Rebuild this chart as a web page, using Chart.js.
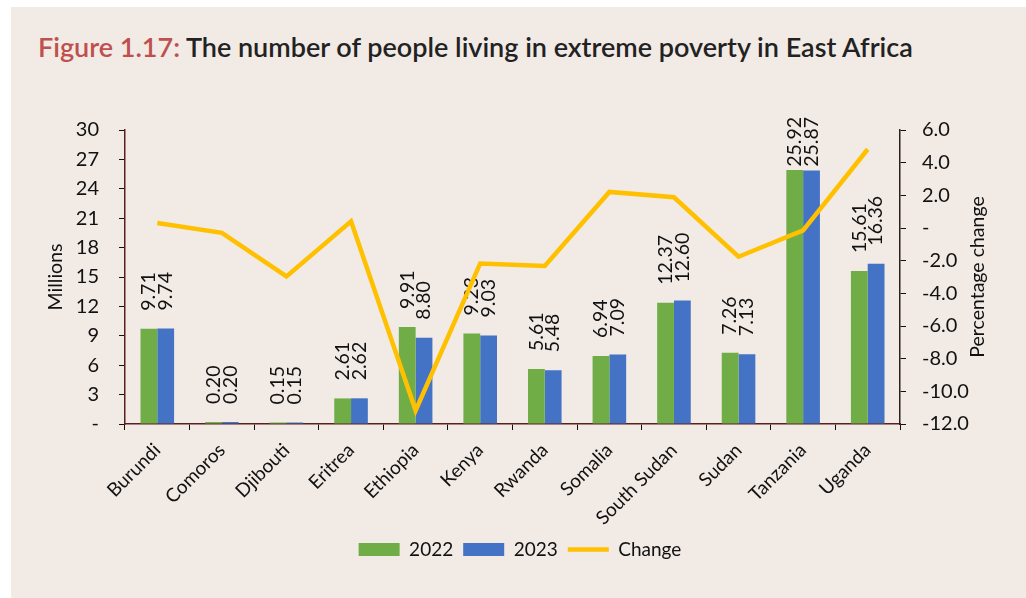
<!DOCTYPE html>
<html>
<head>
    <meta charset="utf-8">
    <title>Extreme poverty in East Africa</title>
    <script src="https://cdn.jsdelivr.net/npm/chart.js"></script>
    <style>
        body { margin: 0; background: #fff; }
        #panel { position: absolute; left: 11px; top: 7px; width: 1015px; height: 591px; background: #f1eae5; }
        #title { position: absolute; left: 38px; top: 31px; font: 600 27px Lato, sans-serif; line-height: 32px; color: #222; white-space: nowrap; }
        #title span { color: #c0504d; }
        #chart-container { position: absolute; left: 0; top: 0; width: 1026px; height: 598px; }
    </style>
</head>
<body>
    <div id="panel"></div>
    <div id="title"><span>Figure 1.17:</span> The number of people living in extreme poverty in East Africa</div>
    <div id="chart-container">
        <canvas id="povertyChart"></canvas>
    </div>

    <script>
    // 国別データ（百万人）と前年比（%）
    const countries = ['Burundi', 'Comoros', 'Djibouti', 'Eritrea', 'Ethiopia', 'Kenya',
        'Rwanda', 'Somalia', 'South Sudan', 'Sudan', 'Tanzania', 'Uganda'];
    const people2022 = [9.71, 0.20, 0.15, 2.61, 9.91, 9.23, 5.61, 6.94, 12.37, 7.26, 25.92, 15.61];
    const people2023 = [9.74, 0.20, 0.15, 2.62, 8.80, 9.03, 5.48, 7.09, 12.60, 7.13, 25.87, 16.36];
    const pctChange = [0.31, -0.30, -2.96, 0.41, -11.17, -2.17, -2.32, 2.21, 1.88, -1.76, -0.15, 4.82];

    Chart.defaults.font.family = 'Lato, sans-serif';
    Chart.defaults.font.size = 20;
    Chart.defaults.color = '#111';

    // 棒の上に縦書きの値ラベルを描く
    const barValueLabels = {
        id: 'barValueLabels',
        afterDatasetDraw(chart, args) {
            const ds = chart.data.datasets[args.index];
            if (ds.type === 'line') return;
            const ctx = chart.ctx;
            const limit = chart.chartArea.top - 13;
            ctx.save();
            ctx.font = '19.5px Lato, sans-serif';
            ctx.fillStyle = '#111';
            ctx.textAlign = 'left';
            ctx.textBaseline = 'middle';
            args.meta.data.forEach((bar, i) => {
                const text = ds.data[i].toFixed(2);
                const w = ctx.measureText(text).width;
                const start = Math.max(bar.y - 18, limit + w);
                ctx.save();
                ctx.translate(bar.x, start);
                ctx.rotate(-Math.PI / 2);
                ctx.fillText(text, 0, 0);
                ctx.restore();
            });
            ctx.restore();
        }
    };

    // 右軸のタイトル（下から上へ読む向き）
    const rightAxisTitle = {
        id: 'rightAxisTitle',
        afterDraw(chart) {
            const ctx = chart.ctx;
            const area = chart.chartArea;
            ctx.save();
            ctx.font = '19.5px Lato, sans-serif';
            ctx.fillStyle = '#111';
            ctx.textAlign = 'center';
            ctx.textBaseline = 'middle';
            ctx.translate(area.right + 78, (area.top + area.bottom) / 2);
            ctx.rotate(-Math.PI / 2);
            ctx.fillText('Percentage change', 0, 0);
            ctx.restore();
        }
    };

    function createChart() {
        const chartCanvas = document.getElementById('povertyChart');
        new Chart(chartCanvas, {
            data: {
                labels: countries,
                datasets: [
                    {
                        type: 'bar',
                        label: '2022',
                        data: people2022,
                        backgroundColor: '#70ad47',
                        yAxisID: 'y',
                        categoryPercentage: 0.52,
                        barPercentage: 1,
                        pointStyle: 'rect'
                    },
                    {
                        type: 'bar',
                        label: '2023',
                        data: people2023,
                        backgroundColor: '#4472c4',
                        yAxisID: 'y',
                        categoryPercentage: 0.52,
                        barPercentage: 1,
                        pointStyle: 'rect'
                    },
                    {
                        type: 'line',
                        label: 'Change',
                        data: pctChange,
                        borderColor: '#ffc000',
                        backgroundColor: '#ffc000',
                        borderWidth: 4.5,
                        pointRadius: 0,
                        tension: 0,
                        yAxisID: 'y1',
                        order: -1,
                        pointStyle: 'line'
                    }
                ]
            },
            options: {
                responsive: true,
                maintainAspectRatio: false,
                animation: false,
                layout: { padding: { left: 40, right: 26, top: 130, bottom: 29 } },
                plugins: {
                    tooltip: { enabled: false },
                    legend: {
                        position: 'bottom',
                        labels: {
                            usePointStyle: true,
                            pointStyleWidth: 41,
                            boxHeight: 13,
                            padding: 10,
                            color: '#111',
                            font: { size: 19 },
                            sort: (a, b) => a.datasetIndex - b.datasetIndex
                        }
                    }
                },
                scales: {
                    x: {
                        grid: { drawOnChartArea: false, tickLength: 6, tickColor: '#111', offset: true },
                        border: { color: '#5b2020', width: 1.5 },
                        ticks: { minRotation: 45, maxRotation: 45, padding: 9, color: '#111', font: { size: 19 } },
                        afterFit(scale) { scale.height = 106; }
                    },
                    y: {
                        position: 'left',
                        min: 0,
                        max: 30,
                        ticks: {
                            stepSize: 3,
                            padding: 20,
                            color: '#111',
                            callback: v => v === 0 ? '-' : v
                        },
                        grid: { drawOnChartArea: false, tickLength: 6, tickColor: '#111' },
                        border: { color: '#5b2020', width: 1.5 },
                        title: { display: true, text: 'Millions', color: '#111', padding: 4, font: { size: 19.5 } },
                        afterFit(scale) { scale.width = 85; }
                    },
                    y1: {
                        position: 'right',
                        min: -12,
                        max: 6,
                        ticks: {
                            stepSize: 2,
                            padding: 16,
                            color: '#111',
                            callback: v => v === 0 ? '-' : v.toFixed(1)
                        },
                        grid: { drawOnChartArea: false, tickLength: 6, tickColor: '#111' },
                        border: { color: '#2a2020', width: 1.5 },
                        afterFit(scale) { scale.width = 100; }
                    }
                }
            },
            plugins: [barValueLabels, rightAxisTitle]
        });
    }

    window.onload = () => {
        createChart();
    };
    </script>
</body>
</html>
